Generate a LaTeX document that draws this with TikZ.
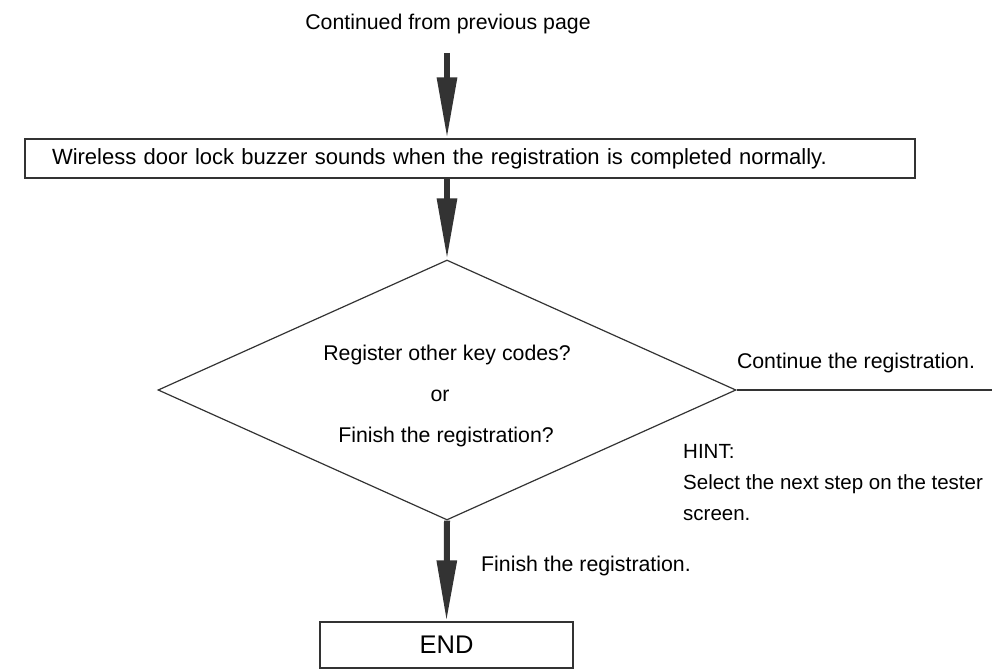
\documentclass[tikz,border=0pt]{standalone}
\usepackage{fontspec}
\setmainfont{Liberation Sans}
\usetikzlibrary{shapes.geometric,arrows.meta}
\definecolor{ink}{HTML}{333333}
\begin{document}
\begin{tikzpicture}[x=1pt,y=-1pt,
  every node/.style={font=\fontsize{21.3}{31}\selectfont, text=black},
  boxnode/.style={draw=ink, line width=1.3pt, inner sep=0pt},
  fatarrow/.style={draw=ink, line width=6pt, -{Triangle[width=19pt,length=61pt,fill=ink]}},
  plainline/.style={draw=ink, line width=2pt},
  label/.style={inner sep=0pt}]
\useasboundingbox (0,0) rectangle (992,669);
\node[label] (cont) at (448,24) {Continued from previous page};
\coordinate (start) at (447,53);
\node[boxnode, minimum width=890pt, minimum height=39pt, text width=836pt, inner xsep=27pt, align=left, font=\fontsize{22}{26}\selectfont] (box1) at (470,158.5)
  {Wireless door lock buzzer sounds when the registration is completed normally.};
\node[diamond, draw=ink, line width=1.2pt, minimum width=578pt, minimum height=260pt, inner sep=0pt] (dia) at (447,390) {};
\node[label] (q1) at (447,355) {Register other key codes?};
\node[label] (q2) at (440,396) {or};
\node[label] (q3) at (446,437) {Finish the registration?};
\coordinate (rightend) at (992,390);
\node[label] (cont2) at (856,363) {Continue the registration.};
\node[label, anchor=north west, align=left, font=\fontsize{20.5}{31}\selectfont] (hint) at (683,444) {HINT:\\Select the next step on the tester\\screen.};
\node[boxnode, minimum width=253pt, minimum height=46pt, font=\fontsize{25.5}{30}\selectfont] (endb) at (446.5,645) {END};
\node[label, anchor=west] (fin) at (481,566) {Finish the registration.};
\draw[fatarrow] (start) -- (dia.north |- box1.north);
\draw[fatarrow] (dia.north |- box1.south) -- (dia.north);
\draw[fatarrow] (dia.south) -- (endb.north);
\draw[plainline] (dia.east) -- (rightend);
\end{tikzpicture}
\end{document}
